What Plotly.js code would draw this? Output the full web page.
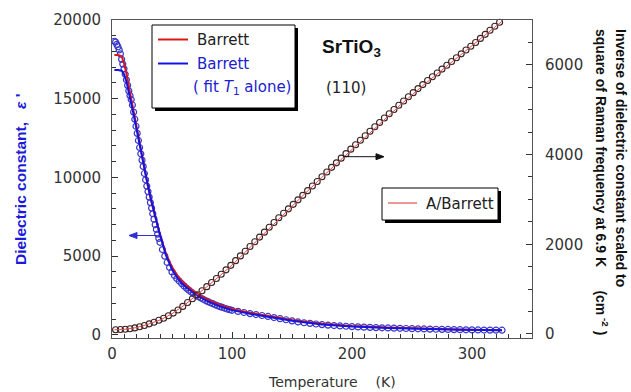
<!DOCTYPE html>
<html>
<head>
<meta charset="utf-8">
<script src="https://cdn.plot.ly/plotly-3.0.1.min.js"></script>
<style>html,body{margin:0;padding:0;background:#fff;}#chart{width:631px;height:392px;}</style>
</head>
<body>
<div id="chart"></div>
<script>
// ---- Dielectric constant data (left axis) ----
const T_eps = [2,3,4,5,6,7,8,9,10,11,12,13,14,15,16,17,18,19,20,21,22,23,24,25,26,27,28,29,30,31,32,33,34,35,36,37,38,39,40,
  42,44,46,48,50,52,54,56,58,60,62,64,66,68,70,72,74,76,78,80,82,84,86,88,90,92,94,96,98,100,
  105,110,115,120,125,130,135,140,145,150,155,160,165,170,175,180,185,190,195,200,205,210,215,220,225,230,235,240,245,250,255,260,265,270,275,280,285,290,295,300,305,310,315,320,325];
const eps = [18650,18600,18450,18300,18100,17850,17500,17200,16900,16550,16200,15850,15500,15200,14950,14600,14150,13700,13250,12800,12350,11900,11500,11100,10700,10250,9850,9450,9100,8750,8400,8050,7700,7350,7000,6700,6400,6130,5880,
  5420,5000,4600,4280,4000,3770,3580,3420,3260,3110,2970,2840,2720,2610,2510,2420,2340,2260,2180,2110,2040,1980,1910,1850,1790,1740,1690,1640,1600,1560,
  1490,1420,1350,1290,1230,1170,1100,1030,960,890,820,770,730,690,650,620,590,565,545,525,505,490,475,460,448,437,427,417,405,395,385,375,365,357,350,342,335,328,322,316,311,306,302,298,295];

// ---- Barrett fits (left axis) ----
const T_fit = [2,5,8,10,12,14,16,18,20,22,24,26,28,30,33,36,40,45,50,55,60,70,80,90,100,115,130,150,175,200,230,260,290,325];
const barrett = [17780,17780,17700,17250,16600,15800,14950,14100,13300,12450,11650,10850,10100,9400,8400,7450,6350,5150,4300,3700,3270,2650,2230,1900,1650,1400,1210,950,700,560,460,390,340,300];
const barrettT1 = [16830,16830,16780,16550,16100,15450,14750,14000,13250,12450,11650,10900,10150,9450,8450,7500,6350,5050,4150,3550,3130,2530,2130,1810,1570,1340,1160,900,660,530,440,375,330,295];

// ---- Inverse dielectric constant (right axis) ----
const T_inv = [3,7,11,15,19,23,27,31,35,39,43,47,51,55,59,63,67,71,75,79,83,87,91,95,99,103,107,111,115,119,123,127,131,135,139,143,147,151,155,159,163,167,171,175,179,183,187,191,195,199,203,207,211,215,219,223,227,231,235,239,243,247,251,255,259,263,267,271,275,279,283,287,291,295,299,303,307,311,315,319,323];
const invEps = [95,98,105,117,135,160,190,225,262,305,350,405,465,535,615,700,785,873,965,1055,1147,1238,1330,1430,1530,1635,1740,1845,1950,2055,2160,2270,2380,2485,2590,2690,2790,2890,2990,3090,3195,3300,3400,3505,3610,3715,3815,3920,4020,4120,4220,4320,4420,4520,4620,4715,4815,4910,5005,5100,5195,5290,5380,5470,5560,5650,5735,5820,5905,5990,6075,6160,6245,6330,6415,6500,6590,6680,6770,6860,6950];
const T_invFit = [2,10,20,30,40,50,60,70,80,90,100,120,140,160,180,200,220,240,260,280,300,325];
const aBarrett = [92,102,140,215,312,450,636,850,1075,1300,1535,2060,2590,3110,3620,4120,4620,5100,5560,5990,6415,6970];

// ---- Text ----
const xTicks = [0,100,200,300];
const legend1 = ['Barrett','Barrett','( fit <i>T</i><sub>1</sub> alone)'];
const legend2 = 'A/Barrett';

// pixel helpers for layout decorations
const L = 112, R = 532, TOP = 20, BOT = 338;
const px = x => (x - L) / (R - L);
const py = y => (BOT - y) / (BOT - TOP);
const pathOf = pts => 'M' + pts.map(p => px(p[0]) + ',' + py(p[1])).join(' L') + ' Z';

const traces = [
  {x: T_inv, y: invEps, yaxis: 'y2', mode: 'markers', type: 'scatter', cliponaxis: false,
   marker: {symbol: 'circle-open', size: 6, color: '#3a2222', line: {width: 1.1}}},
  {x: T_invFit, y: aBarrett, yaxis: 'y2', mode: 'lines', type: 'scatter',
   line: {color: '#e05050', width: 1}},
  {x: T_eps, y: eps, mode: 'markers', type: 'scatter',
   marker: {symbol: 'circle-open', size: 6, color: '#3a3ac8', line: {width: 1.2}}},
  {x: T_fit, y: barrett, mode: 'lines', type: 'scatter', line: {color: '#d81818', width: 2}},
  {x: T_fit, y: barrettT1, mode: 'lines', type: 'scatter', line: {color: '#1414e0', width: 2}}
];

const tickFont = {family: 'DejaVu Sans', size: 15, color: '#333'};
const P = {xref: 'paper', yref: 'paper', layer: 'above'};
const shapes = [
  Object.assign({type: 'rect', x0: px(155), x1: px(298), y0: py(111), y1: py(28), fillcolor: '#000', line: {width: 0}}, P),
  Object.assign({type: 'rect', x0: px(152), x1: px(295), y0: py(108), y1: py(25), fillcolor: '#fff', line: {color: '#000', width: 1}}, P),
  Object.assign({type: 'line', x0: px(158), x1: px(188), y0: py(39.5), y1: py(39.5), line: {color: '#d81818', width: 2}}, P),
  Object.assign({type: 'line', x0: px(158), x1: px(188), y0: py(63.5), y1: py(63.5), line: {color: '#1414e0', width: 2}}, P),
  Object.assign({type: 'rect', x0: px(385), x1: px(501), y0: py(223), y1: py(191), fillcolor: '#000', line: {width: 0}}, P),
  Object.assign({type: 'rect', x0: px(382), x1: px(498), y0: py(220), y1: py(188), fillcolor: '#fff', line: {color: '#000', width: 1}}, P),
  Object.assign({type: 'line', x0: px(388), x1: px(417), y0: py(203), y1: py(203), line: {color: '#e05050', width: 1.2}}, P),
  // arrows
  Object.assign({type: 'line', x0: px(343), x1: px(377), y0: py(156.7), y1: py(156.7), line: {color: '#111', width: 1}}, P),
  Object.assign({type: 'path', path: pathOf([[376, 153.7], [384, 156.7], [376, 159.7]]), fillcolor: '#111', line: {color: '#111', width: 1}}, P),
  Object.assign({type: 'line', x0: px(157), x1: px(136), y0: py(235.5), y1: py(235.5), line: {color: '#3030d0', width: 1}}, P),
  Object.assign({type: 'path', path: pathOf([[137, 232.5], [129, 235.5], [137, 238.5]]), fillcolor: '#3030d0', line: {color: '#3030d0', width: 1}}, P)
];

const ann = (text, x, y, opts) => Object.assign({text, x: px(x), y: py(y), xref: 'paper', yref: 'paper', showarrow: false,
  xanchor: 'left', yanchor: 'middle', font: {family: 'DejaVu Sans', size: 15, color: '#222'}}, opts || {});

const annotations = [
  ann(legend1[0], 195, 40),
  ann(legend1[1], 195, 63.5, {font: {family: 'DejaVu Sans', size: 15, color: '#2020d0'}}),
  ann(legend1[2], 191, 88, {font: {family: 'DejaVu Sans', size: 15, color: '#2020d0'}}),
  ann('<b>SrTiO<sub>3</sub></b>', 351, 48, {xanchor: 'center', font: {family: 'Liberation Sans', size: 19, color: '#111'}}),
  ann('(110)', 346, 88, {xanchor: 'center'}),
  ann(legend2, 424, 204),
  ann('Temperature&nbsp;&nbsp;&nbsp;&nbsp;(K)', 332, 382, {xanchor: 'center', font: {family: 'DejaVu Sans', size: 14, color: '#333'}}),
  ann('<b>Dielectric constant,&nbsp;&nbsp;&nbsp;<i>ε</i> \'</b>', 20, 180, {xanchor: 'center', textangle: -90,
      font: {family: 'Liberation Sans', size: 15.5, color: '#1a1ad8'}}),
  ann('<b>Inverse of dielectric constant scaled to</b>', 621, 27, {xanchor: 'center', yanchor: 'top', textangle: 90,
      font: {family: 'Liberation Sans', size: 14, color: '#111'}}),
  ann('<b>square of Raman frequency at 6.9 K&nbsp;&nbsp;&nbsp;&nbsp;&nbsp;&nbsp;(cm<sup>&nbsp;-2</sup>&nbsp;)</b>', 602, 27, {xanchor: 'center', yanchor: 'top', textangle: 90,
      font: {family: 'Liberation Sans', size: 14, color: '#111'}})
];

const layout = {
  width: 631, height: 392,
  margin: {l: 112, r: 99, t: 20, b: 54},
  paper_bgcolor: '#fff', plot_bgcolor: '#fff',
  showlegend: false,
  xaxis: {range: [0, 350], tickvals: xTicks, ticks: 'inside', ticklen: 6, tickcolor: '#333',
    minor: {dtick: 10, tick0: 0, ticks: 'inside', ticklen: 4, tickcolor: '#333'},
    showline: true, linecolor: '#555', linewidth: 1, mirror: true, showgrid: false, zeroline: false,
    tickfont: tickFont, ticklabelstandoff: 2},
  yaxis: {range: [-200, 20000], dtick: 5000, tick0: 0, tickformat: 'd', ticks: 'inside', ticklen: 6, tickcolor: '#333',
    minor: {dtick: 1000, tick0: 0, ticks: 'inside', ticklen: 4, tickcolor: '#333'},
    showline: true, linecolor: '#555', linewidth: 1, showgrid: false, zeroline: false,
    tickfont: tickFont, ticklabelstandoff: 7},
  yaxis2: {overlaying: 'y', side: 'right', range: [-90, 7000], dtick: 2000, tick0: 0, tickformat: 'd', ticks: 'inside', ticklen: 6, tickcolor: '#333',
    minor: {dtick: 500, tick0: 0, ticks: 'inside', ticklen: 4, tickcolor: '#333'},
    showline: true, linecolor: '#555', linewidth: 1, showgrid: false, zeroline: false,
    tickfont: tickFont, ticklabelstandoff: 9},
  shapes, annotations
};

Plotly.newPlot('chart', traces, layout, {staticPlot: true, displayModeBar: false});
</script>
</body>
</html>
